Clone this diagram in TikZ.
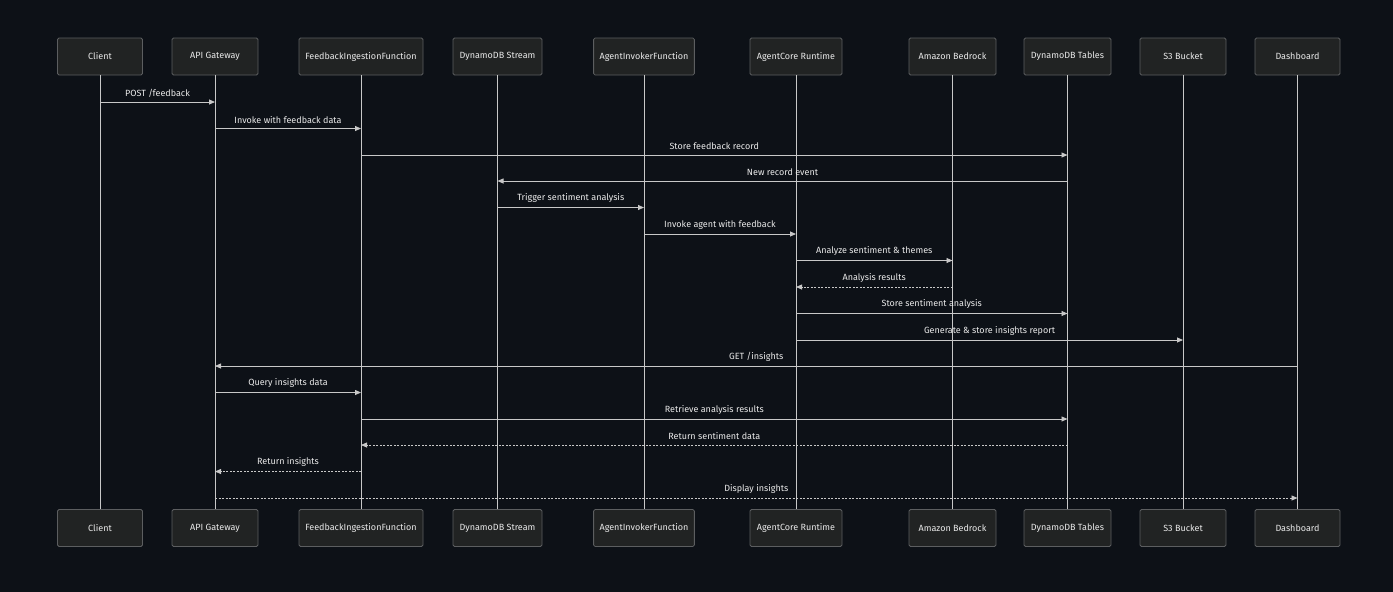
\documentclass[tikz,border=0pt]{standalone}
\usepackage{fontspec}
\setmainfont{Fira Sans}
\usetikzlibrary{arrows.meta}

\definecolor{bgdark}{HTML}{0D1117}
\definecolor{boxfill}{HTML}{212323}
\definecolor{boxline}{HTML}{5C5E60}
\definecolor{wire}{HTML}{C8C8C8}
\definecolor{ink}{HTML}{EAEAEA}

\tikzset{
  actor/.style={draw=boxline, fill=boxfill, rounded corners=1.5pt, line width=0.8pt,
    minimum height=37pt, inner xsep=6pt, text=ink, font=\fontsize{9}{10}\selectfont},
  life/.style={draw=wire, line width=0.9pt},
  msg/.style={draw=wire, line width=0.8pt, -{Triangle[length=6pt,width=5pt]}},
  reply/.style={msg, dash pattern=on 2pt off 1.5pt},
  lbl/.style={above=4.5pt, text=ink, font=\fontsize{9}{10}\selectfont, inner sep=0pt}
}

\begin{document}
\begin{tikzpicture}[x=1pt,y=-1pt]

\fill [bgdark] (0,0) rectangle (1393,592);
\useasboundingbox (0,0) rectangle (1393,592);

% participants, top row
\node [actor, minimum width=85pt] (cl) at (100,56.5) {Client};
\node [actor, minimum width=86pt] (gw) at (215,56.5) {API Gateway};
\node [actor, minimum width=124pt] (fi) at (361,56.5) {FeedbackIngestionFunction};
\node [actor, minimum width=89pt] (ds) at (497.5,56.5) {DynamoDB Stream};
\node [actor, minimum width=100pt] (ai) at (644,56.5) {AgentInvokerFunction};
\node [actor, minimum width=92pt] (ac) at (796,56.5) {AgentCore Runtime};
\node [actor, minimum width=87pt] (br) at (952.5,56.5) {Amazon Bedrock};
\node [actor, minimum width=87pt] (dt) at (1067.5,56.5) {DynamoDB Tables};
\node [actor, minimum width=86pt] (sb) at (1183,56.5) {S3 Bucket};
\node [actor, minimum width=85pt] (db) at (1297.5,56.5) {Dashboard};

% participants, bottom row
\node [actor, minimum width=85pt] (cl2) at (100,528) {Client};
\node [actor, minimum width=86pt] (gw2) at (215,528) {API Gateway};
\node [actor, minimum width=124pt] (fi2) at (361,528) {FeedbackIngestionFunction};
\node [actor, minimum width=89pt] (ds2) at (497.5,528) {DynamoDB Stream};
\node [actor, minimum width=100pt] (ai2) at (644,528) {AgentInvokerFunction};
\node [actor, minimum width=92pt] (ac2) at (796,528) {AgentCore Runtime};
\node [actor, minimum width=87pt] (br2) at (952.5,528) {Amazon Bedrock};
\node [actor, minimum width=87pt] (dt2) at (1067.5,528) {DynamoDB Tables};
\node [actor, minimum width=86pt] (sb2) at (1183,528) {S3 Bucket};
\node [actor, minimum width=85pt] (db2) at (1297.5,528) {Dashboard};

% lifelines
\foreach \p in {cl,gw,fi,ds,ai,ac,br,dt,sb,db}
  \draw [life] (\p.south) -- (\p2.north);

% message rows
\coordinate (r1) at (0,102);
\coordinate (r2) at (0,128.5);
\coordinate (r3) at (0,155);
\coordinate (r4) at (0,181);
\coordinate (r5) at (0,207.5);
\coordinate (r6) at (0,234);
\coordinate (r7) at (0,260.5);
\coordinate (r8) at (0,287);
\coordinate (r9) at (0,313.5);
\coordinate (r10) at (0,340);
\coordinate (r11) at (0,366);
\coordinate (r12) at (0,392.5);
\coordinate (r13) at (0,419);
\coordinate (r14) at (0,445);
\coordinate (r15) at (0,471.5);
\coordinate (r16) at (0,498);

\draw [msg] (cl |- r1) -- (gw |- r1) node [lbl, midway] {POST /feedback};
\draw [msg] (gw |- r2) -- (fi |- r2) node [lbl, midway] {Invoke with feedback data};
\draw [msg] (fi |- r3) -- (dt |- r3) node [lbl, midway] {Store feedback record};
\draw [msg] (dt |- r4) -- (ds |- r4) node [lbl, midway] {New record event};
\draw [msg] (ds |- r5) -- (ai |- r5) node [lbl, midway] {Trigger sentiment analysis};
\draw [msg] (ai |- r6) -- (ac |- r6) node [lbl, midway] {Invoke agent with feedback};
\draw [msg] (ac |- r7) -- (br |- r7) node [lbl, midway] {Analyze sentiment \& themes};
\draw [reply] (br |- r8) -- (ac |- r8) node [lbl, midway] {Analysis results};
\draw [msg] (ac |- r9) -- (dt |- r9) node [lbl, midway] {Store sentiment analysis};
\draw [msg] (ac |- r10) -- (sb |- r10) node [lbl, midway] {Generate \& store insights report};
\draw [msg] (db |- r11) -- (gw |- r11) node [lbl, midway] {GET /insights};
\draw [msg] (gw |- r12) -- (fi |- r12) node [lbl, midway] {Query insights data};
\draw [msg] (fi |- r13) -- (dt |- r13) node [lbl, midway] {Retrieve analysis results};
\draw [reply] (dt |- r14) -- (fi |- r14) node [lbl, midway] {Return sentiment data};
\draw [reply] (fi |- r15) -- (gw |- r15) node [lbl, midway] {Return insights};
\draw [reply] (gw |- r16) -- (db |- r16) node [lbl, midway] {Display insights};

\end{tikzpicture}
\end{document}
